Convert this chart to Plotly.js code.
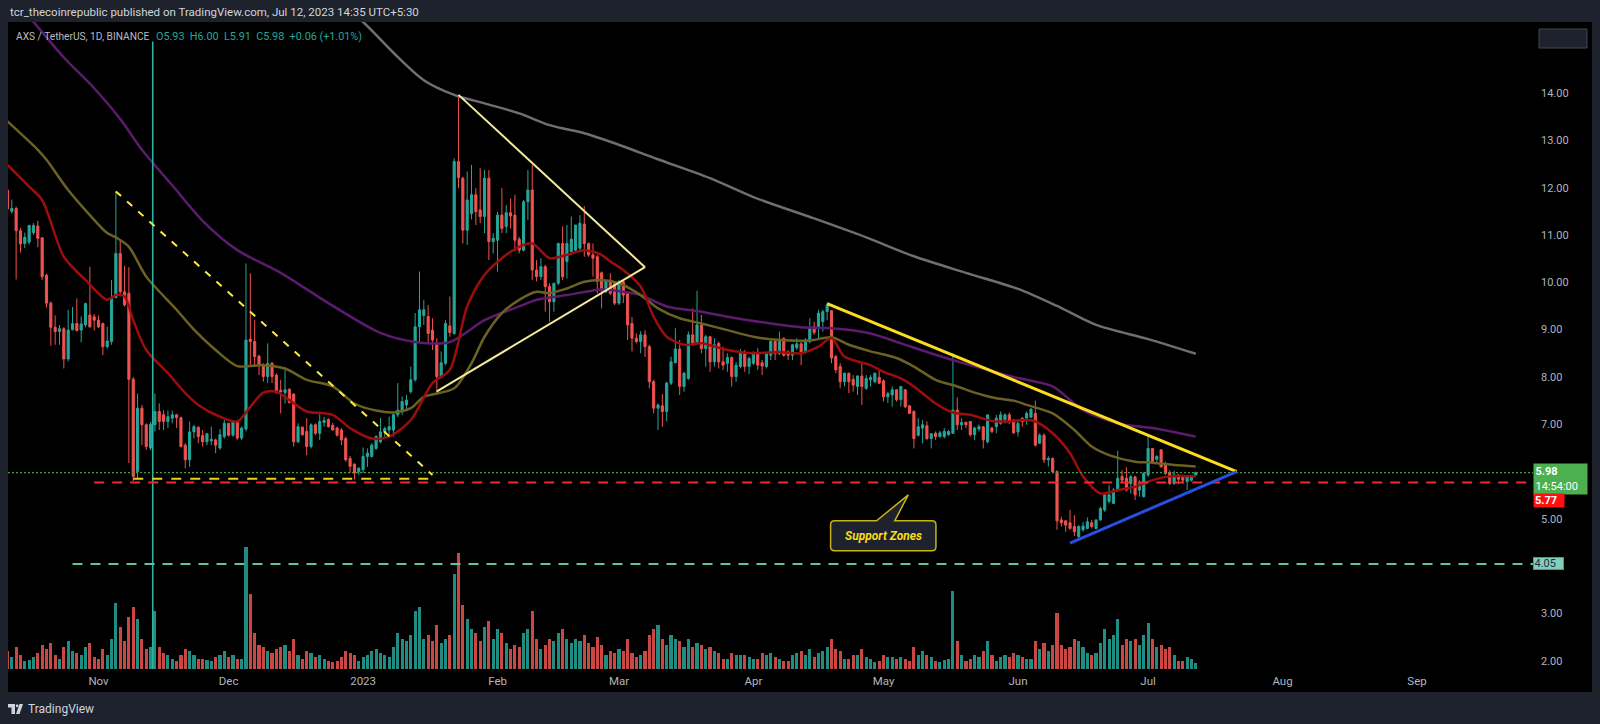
<!DOCTYPE html>
<html>
<head>
<meta charset="utf-8">
<script src="https://cdn.plot.ly/plotly-3.0.1.min.js"></script>
<style>
html,body{margin:0;padding:0;background:#1e222d;}
#chart{width:1600px;height:724px;}
</style>
</head>
<body>
<div id="chart"></div>
<script>
// ---------------- DATA (AXS / TetherUS, 1D, BINANCE) ----------------
const firstDay = [2022, 9, 11]; // 2022-10-11, one candle per calendar day
const open = [
// Oct
11.95,11.5,11.56,11.09,10.82,10.85,11.05,11.19,10.94,10.15,9.56,9.05,8.96,9.02,8.38,9.0,9.13,8.99,9.1,9.31,9.27,
// Nov
9.2,9.13,8.64,8.75,9.68,10.61,9.8,9.77,7.95,6.0,7.34,6.99,6.5,6.99,7.27,7.2,7.06,7.13,7.2,7.14,6.56,6.25,6.84,6.94,6.76,6.63,6.65,6.67,6.5,6.74,
// Dec
7.02,6.77,7.06,6.71,6.9,8.8,8.75,8.44,8.25,8.01,8.29,8.04,7.72,7.67,7.74,7.64,6.63,6.94,6.85,6.53,6.99,6.81,7.04,7.1,6.98,6.92,6.88,6.7,6.28,6.16,6.0,
// Jan
6.04,6.32,6.32,6.49,6.63,6.84,6.88,6.88,7.2,7.3,7.41,7.69,7.94,9.06,9.3,9.28,8.99,8.71,8.01,8.29,9.08,8.92,12.55,12.2,11.1,11.45,11.85,11.53,11.39,12.2,10.86,
// Feb
10.89,11.42,11.18,11.47,11.42,10.91,10.68,11.7,11.95,10.26,10.12,10.33,9.91,9.59,9.98,10.82,10.44,10.65,10.68,10.72,11.23,10.82,10.58,10.54,10.2,9.8,10.01,9.98,
// Mar
9.56,10.01,9.77,9.13,8.82,8.75,8.89,8.64,7.9,7.34,7.39,7.27,7.87,8.3,8.59,7.8,7.97,8.89,8.71,9.1,8.6,8.85,8.32,8.71,8.32,8.29,8.41,8.01,8.22,8.5,8.22,
// Apr
8.29,8.52,8.3,8.22,8.46,8.75,8.5,8.82,8.53,8.46,8.62,8.7,8.53,8.75,9.06,9.03,9.17,9.38,9.4,8.43,8.22,7.9,8.08,7.95,7.8,8.02,7.76,7.94,7.9,7.99,
// May
7.92,7.58,7.62,7.73,7.52,7.73,7.39,7.27,6.77,6.92,6.97,6.7,6.81,6.74,6.74,6.78,6.81,7.3,6.99,7.04,7.06,6.78,6.9,6.95,6.63,6.92,6.95,7.02,7.1,7.2,7.09,
// Jun
6.84,7.13,7.13,7.15,7.23,6.6,6.77,6.25,6.28,6.0,4.98,4.96,4.92,4.84,4.63,4.77,4.8,4.92,4.8,4.98,5.19,5.37,5.33,5.61,5.9,5.86,5.75,5.89,5.61,5.47,
// Jul
5.93,6.49,6.26,6.46,6.14,5.98,5.75,5.93,5.9,5.79,5.82,5.93
];
const high = [
12.0,11.75,11.6,11.15,11.05,11.22,11.25,11.3,10.95,10.18,9.6,9.3,9.1,9.05,9.42,9.48,9.66,9.28,9.57,10.33,9.33,
9.3,9.15,9.06,10.05,11.92,10.88,10.35,10.32,8.0,7.65,7.41,7.02,7.05,7.65,7.44,7.3,7.29,7.29,7.22,7.16,6.6,7.06,6.99,6.95,6.88,6.81,6.95,6.7,6.9,7.09,
7.03,7.09,7.09,6.95,10.4,10.19,9.2,8.47,8.29,8.71,8.32,8.08,7.94,8.18,7.76,7.65,7.02,6.95,7.13,7.02,7.02,7.27,7.16,7.13,7.03,6.95,6.92,6.74,6.33,6.17,6.1,
6.51,6.49,6.6,6.77,7.13,6.95,7.16,7.23,7.87,7.59,7.62,8.22,9.35,10.23,9.63,9.52,9.24,8.82,8.54,9.2,9.7,12.62,13.96,12.23,12.34,12.48,11.99,12.41,12.37,12.37,11.04,
11.49,11.99,11.63,11.77,11.85,10.96,11.74,12.37,12.48,10.47,10.51,10.37,9.98,9.99,10.84,11.18,11.21,11.39,11.21,11.42,11.61,10.84,10.82,10.58,10.23,10.05,10.19,10.0,
10.05,10.05,9.8,9.27,8.92,8.97,8.99,8.68,7.94,7.44,7.64,7.9,8.43,9.03,8.78,8.11,8.96,9.45,9.82,9.31,8.89,8.87,8.82,8.75,8.64,8.5,8.43,8.32,8.59,8.57,8.43,
8.54,8.61,8.36,8.52,8.78,8.78,8.96,8.83,8.57,8.7,8.82,8.75,8.82,9.24,9.17,9.42,9.42,9.57,9.41,8.47,8.29,8.09,8.09,8.04,8.04,8.3,8.04,8.04,8.09,8.13,
7.95,7.69,7.8,7.74,7.81,7.74,7.41,7.3,7.13,7.09,7.06,6.81,6.85,6.86,6.92,6.88,8.5,7.57,7.13,7.06,7.07,6.95,7.0,6.96,7.2,6.95,7.2,7.27,7.23,7.25,7.1,
7.06,7.15,7.27,7.34,7.5,6.81,6.81,6.32,6.3,6.03,5.05,4.98,5.19,5.08,4.87,4.94,5.03,4.98,4.99,5.26,5.54,5.72,5.65,6.44,6.03,6.09,5.93,5.91,5.82,5.99,
6.73,6.5,6.35,6.47,6.21,6.03,6.02,5.95,5.93,5.91,5.93,6.0
];
const low = [
11.5,11.45,10.06,10.63,10.72,10.8,11.0,10.74,10.05,9.47,8.66,8.68,8.68,8.18,8.33,8.98,8.96,8.73,9.05,9.04,8.98,
9.03,8.46,8.6,8.68,9.66,9.7,9.49,6.18,5.8,5.85,6.56,6.46,6.45,6.85,6.88,6.88,6.92,7.02,6.92,6.51,6.07,6.1,6.7,6.6,6.53,6.56,6.56,6.39,6.46,6.7,
6.74,6.74,6.67,6.67,6.85,8.25,8.22,8.04,7.9,7.87,7.87,7.64,7.23,7.44,7.44,6.53,6.6,6.76,6.35,6.49,6.77,6.67,6.95,6.93,6.87,6.74,6.56,6.21,5.97,5.83,5.93,
5.97,6.1,6.3,6.46,6.6,6.7,6.77,6.74,7.15,7.2,7.3,7.65,7.9,8.71,9.1,8.71,8.57,7.73,7.97,8.25,8.85,8.89,11.99,10.82,10.79,11.33,11.21,11.25,11.04,10.47,10.61,
10.23,11.04,11.04,11.14,10.65,10.61,10.65,11.32,10.05,10.02,10.05,9.38,9.17,9.38,9.94,10.05,10.08,10.63,10.65,10.68,10.54,10.54,10.12,9.77,9.45,9.77,9.73,9.52,
9.52,9.56,8.78,8.54,8.71,8.5,8.42,7.76,7.23,6.88,6.95,7.06,7.83,8.29,7.62,7.69,7.94,8.68,8.68,8.5,8.22,8.11,8.22,8.18,8.15,8.11,7.8,7.9,8.18,8.11,8.06,
8.25,8.15,8.04,8.18,8.36,8.36,8.46,8.43,8.36,8.36,8.57,8.25,8.5,8.71,8.89,8.82,8.96,9.2,8.29,8.08,7.76,7.8,7.66,7.69,7.62,7.41,7.73,7.8,7.87,7.85,
7.48,7.45,7.37,7.48,7.37,7.34,7.22,6.49,6.74,6.6,6.67,6.49,6.67,6.72,6.7,6.76,6.8,6.88,6.88,6.92,6.74,6.67,6.85,6.49,6.6,6.81,6.81,6.99,7.02,7.0,6.8,
6.74,6.95,6.99,7.13,6.53,6.58,6.18,6.11,5.96,4.77,4.84,4.73,4.77,4.64,4.59,4.73,4.78,4.8,4.78,4.96,5.15,5.33,5.32,5.58,5.75,5.58,5.54,5.4,5.47,5.46,
5.89,6.19,6.18,6.09,5.93,5.72,5.72,5.74,5.75,5.61,5.79,5.91
];
const close = [
11.55,11.56,11.09,10.81,10.95,11.2,11.2,10.93,10.12,9.56,9.05,8.96,9.02,8.38,8.99,9.13,8.98,9.12,9.55,9.06,9.2,
9.06,8.64,8.76,9.68,10.61,9.8,9.52,7.95,5.9,7.34,6.99,6.53,7.0,7.27,7.06,7.06,7.16,7.2,7.14,6.53,6.25,6.84,6.95,6.74,6.63,6.8,6.68,6.56,6.78,7.02,
6.77,7.06,6.71,6.92,8.78,8.75,8.43,8.25,8.01,8.29,8.01,7.69,7.69,7.73,7.46,6.63,6.95,6.78,6.53,6.99,6.81,7.06,7.08,6.95,6.88,6.77,6.67,6.25,6.11,5.97,6.07,
6.32,6.39,6.56,6.74,6.84,6.91,6.95,7.2,7.3,7.48,7.51,7.94,9.06,9.42,9.42,8.92,8.78,8.01,8.3,9.13,8.94,12.55,12.21,11.1,11.74,11.85,11.49,11.39,12.2,10.86,10.93,
11.42,11.14,11.47,11.4,10.89,10.68,11.7,11.95,10.26,10.12,10.33,9.91,9.59,9.98,10.82,10.12,10.82,10.91,11.21,11.25,10.82,10.58,10.51,10.02,9.84,10.02,9.77,9.56,
10.01,9.73,9.1,8.82,8.75,8.89,8.64,7.9,7.34,7.41,7.27,7.87,8.32,8.59,7.8,8.08,8.89,8.71,9.1,8.6,8.85,8.32,8.68,8.32,8.25,8.41,8.01,8.25,8.5,8.22,8.39,
8.52,8.25,8.23,8.5,8.75,8.5,8.75,8.46,8.46,8.68,8.7,8.53,8.78,9.03,8.94,9.35,9.38,9.52,8.4,8.15,7.9,8.08,7.9,7.83,8.02,7.8,7.97,7.99,8.08,7.87,
7.58,7.65,7.73,7.52,7.8,7.37,7.23,6.7,6.95,6.99,6.7,6.8,6.74,6.82,6.85,6.85,7.3,6.99,7.04,6.99,6.78,6.92,6.95,6.67,7.2,6.85,7.13,7.2,7.2,7.06,6.82,
7.02,7.06,7.23,7.32,6.56,6.77,6.25,6.28,6.0,4.96,4.92,4.87,4.8,4.73,4.84,4.85,4.94,4.84,4.98,5.22,5.51,5.51,5.61,5.86,5.82,5.61,5.89,5.51,5.74,5.96,
6.49,6.21,6.32,6.1,5.96,5.75,5.93,5.84,5.82,5.89,5.9,5.98
];
// volume (relative units)
const volume = [
1.8,1.2,2.2,1.4,0.8,0.9,1.2,1.6,2.4,2.0,2.6,1.4,1.0,2.2,2.8,1.8,1.6,1.4,2.2,2.6,1.2,
1.0,2.0,1.4,3.0,6.6,4.2,2.8,5.2,6.2,5.0,3.0,2.0,2.2,5.8,2.2,1.6,1.4,1.0,0.8,1.4,2.0,1.8,1.4,1.0,1.0,0.9,0.8,1.2,1.4,1.8,
1.2,1.4,1.0,1.0,12.2,7.5,3.6,2.4,2.2,1.8,1.6,2.0,2.2,2.4,1.8,3.0,1.4,1.0,1.8,1.6,1.2,1.4,1.0,0.8,0.7,0.8,1.2,1.8,1.6,1.4,0.8,
1.2,1.4,1.8,2.0,1.6,1.4,1.2,2.2,3.6,3.0,2.8,3.4,5.8,6.2,3.0,3.4,2.8,4.4,2.6,3.0,3.4,9.5,11.6,6.4,5.0,4.0,3.6,2.8,4.2,4.8,3.0,
4.0,3.6,2.6,2.0,2.4,2.2,3.6,4.0,5.8,3.0,2.0,2.4,3.0,2.8,3.6,4.0,3.0,2.6,3.0,2.8,3.4,2.6,2.2,3.2,2.4,1.4,1.8,1.6,
2.0,1.8,3.0,1.6,1.2,1.4,1.8,3.4,4.0,4.4,3.0,2.4,3.4,3.0,2.8,2.2,3.0,2.2,2.6,2.4,2.0,2.2,1.8,1.6,1.0,1.0,1.6,1.4,1.4,1.4,1.2,
1.0,1.0,1.6,1.4,1.6,1.2,1.0,0.8,0.8,1.4,1.6,1.8,1.4,2.0,1.2,1.6,1.8,2.2,3.0,2.0,1.8,1.0,1.0,1.4,1.4,2.0,1.2,1.0,0.7,0.8,
1.4,1.2,1.2,1.0,1.2,1.0,0.8,2.2,1.4,1.8,1.4,1.2,0.8,0.7,0.9,1.0,7.8,2.8,1.4,0.8,1.0,1.4,1.2,1.8,2.8,1.4,0.8,1.2,1.4,1.2,1.6,
1.4,1.2,1.0,1.0,2.8,2.0,2.6,1.8,2.4,5.6,2.4,2.0,2.2,3.0,2.8,2.2,1.6,1.4,1.6,2.6,4.0,3.0,3.4,5.0,2.4,3.0,2.8,3.0,2.4,3.4,
4.6,3.0,2.2,2.4,2.0,2.2,1.4,0.8,0.8,1.2,1.0,0.6
];

// Moving averages (date, value)
const maRedDates = ['2022-10-11','2022-10-16','2022-10-19','2022-10-24','2022-10-29','2022-11-03','2022-11-05','2022-11-07','2022-11-09','2022-11-12','2022-11-17','2022-11-21','2022-11-24','2022-11-29','2022-12-03','2022-12-06','2022-12-09','2022-12-12','2022-12-15','2022-12-19','2022-12-25','2022-12-29','2023-01-03','2023-01-07','2023-01-12','2023-01-17','2023-01-21','2023-01-25','2023-01-29','2023-02-02','2023-02-06','2023-02-09','2023-02-13','2023-02-17','2023-02-21','2023-02-25','2023-02-27','2023-03-02','2023-03-06','2023-03-09','2023-03-12','2023-03-16','2023-03-20','2023-03-26','2023-04-01','2023-04-07','2023-04-12','2023-04-16','2023-04-19','2023-04-22','2023-04-28','2023-05-01','2023-05-05','2023-05-08','2023-05-13','2023-05-17','2023-05-21','2023-05-26','2023-05-30','2023-06-02','2023-06-05','2023-06-09','2023-06-13','2023-06-16','2023-06-20','2023-06-24','2023-06-28','2023-07-02','2023-07-06','2023-07-12'];
const maRedValues = [12.48,12.02,11.74,10.54,10.05,9.63,9.73,9.7,9.2,8.57,8.08,7.66,7.41,7.16,7.06,7.37,7.67,7.69,7.51,7.27,7.2,6.92,6.7,6.74,7.09,7.87,8.15,9.49,10.16,10.51,10.75,10.82,10.51,10.58,10.68,10.58,10.44,10.26,9.91,9.27,8.85,8.68,8.71,8.57,8.5,8.53,8.5,8.64,8.82,8.43,8.25,8.11,7.97,7.8,7.44,7.25,7.2,7.07,7.06,7.09,7.06,6.81,6.39,5.9,5.54,5.61,5.68,5.82,5.9,5.9];

const maOliveDates = ['2022-10-11','2022-10-18','2022-10-20','2022-10-25','2022-10-30','2022-11-03','2022-11-05','2022-11-08','2022-11-12','2022-11-19','2022-11-23','2022-11-28','2022-12-03','2022-12-09','2022-12-14','2022-12-19','2022-12-25','2022-12-30','2023-01-04','2023-01-08','2023-01-12','2023-01-15','2023-01-22','2023-01-26','2023-01-29','2023-02-02','2023-02-06','2023-02-10','2023-02-13','2023-02-17','2023-02-21','2023-02-25','2023-03-01','2023-03-06','2023-03-10','2023-03-15','2023-03-20','2023-03-26','2023-04-01','2023-04-07','2023-04-14','2023-04-19','2023-04-23','2023-04-28','2023-05-04','2023-05-08','2023-05-13','2023-05-18','2023-05-22','2023-05-27','2023-05-31','2023-06-03','2023-06-09','2023-06-14','2023-06-18','2023-06-22','2023-06-28','2023-07-02','2023-07-07','2023-07-12'];
const maOliveValues = [13.4,12.8,12.59,11.95,11.42,11.04,10.95,10.75,10.12,9.42,9.0,8.57,8.23,8.25,8.18,7.94,7.8,7.44,7.29,7.25,7.34,7.58,7.76,8.29,8.85,9.35,9.63,9.8,9.77,9.87,10.01,10.05,9.98,9.73,9.45,9.24,9.13,8.99,8.85,8.78,8.77,8.84,8.68,8.54,8.4,8.22,7.94,7.8,7.67,7.55,7.5,7.41,7.23,6.88,6.53,6.35,6.21,6.19,6.14,6.11];

const maPurpleDates = ['2022-10-14','2022-10-17','2022-10-24','2022-10-31','2022-11-06','2022-11-11','2022-11-18','2022-11-25','2022-12-03','2022-12-13','2022-12-24','2023-01-05','2023-01-13','2023-01-21','2023-01-29','2023-02-06','2023-02-10','2023-02-17','2023-02-25','2023-03-02','2023-03-06','2023-03-12','2023-03-20','2023-03-28','2023-04-05','2023-04-12','2023-04-19','2023-04-28','2023-05-05','2023-05-13','2023-05-21','2023-05-31','2023-06-03','2023-06-09','2023-06-16','2023-06-24','2023-07-02','2023-07-12'];
const maPurpleValues = [15.8,15.5,14.75,14.1,13.45,12.8,12.05,11.3,10.68,10.2,9.56,8.93,8.74,8.74,9.2,9.49,9.63,9.73,9.85,9.8,9.73,9.49,9.38,9.24,9.13,9.05,9.03,8.92,8.71,8.47,8.25,8.0,7.94,7.8,7.3,7.02,6.92,6.74];

const maGrayDates = ['2022-12-25','2023-01-01','2023-01-08','2023-01-15','2023-01-22','2023-01-29','2023-02-06','2023-02-13','2023-02-21','2023-02-27','2023-03-10','2023-03-22','2023-04-01','2023-04-15','2023-04-27','2023-05-08','2023-05-20','2023-06-01','2023-06-10','2023-06-19','2023-07-01','2023-07-12'];
const maGrayValues = [16.0,15.5,14.85,14.27,13.96,13.78,13.57,13.32,13.15,12.97,12.6,12.2,11.8,11.35,10.95,10.55,10.2,9.86,9.5,9.1,8.8,8.49];

// axis labels
const monthTickDates = ['2022-11-01','2022-12-01','2023-01-01','2023-02-01','2023-03-01','2023-04-01','2023-05-01','2023-06-01','2023-07-01','2023-08-01','2023-09-01'];
const monthTickText = ['Nov','Dec','2023','Feb','Mar','Apr','May','Jun','Jul','Aug','Sep'];
const priceTickVals = [2,3,5,7,8,9,10,11,12,13,14];
const priceTickText = ['2.00','3.00','5.00','7.00','8.00','9.00','10.00','11.00','12.00','13.00','14.00'];

// levels and drawings (anchor date, price)
const lastPrice = 5.98, supportLevel = 5.77, deepSupport = 4.05;
const xStart = '2022-10-11 03:00', xEnd = '2023-09-27 18:00';

// ---------------- BUILD ----------------
const dates = open.map((_, i) => {
  const d = new Date(Date.UTC(firstDay[0], firstDay[1], firstDay[2] + i));
  return d.toISOString().slice(0, 10);
});
const UP = '#26a69a', DOWN = '#ef5350';
const volColors = open.map((o, i) => close[i] >= o ? 'rgba(38,166,154,0.85)' : 'rgba(239,83,80,0.85)');
const FONT = 'Roboto, "Liberation Sans", Arial, sans-serif';

const traces = [
  {type:'bar', x:dates, y:volume, yaxis:'y2', marker:{color:volColors, line:{width:0}}, width:0.72*86400000, hoverinfo:'skip'},
  {type:'scatter', mode:'lines', x:maGrayDates, y:maGrayValues, line:{color:'#6f6f6f', width:2.5, shape:'spline', smoothing:0.8}, hoverinfo:'skip'},
  {type:'scatter', mode:'lines', x:maPurpleDates, y:maPurpleValues, line:{color:'#5c1b6e', width:2.5, shape:'spline', smoothing:0.8}, hoverinfo:'skip'},
  {type:'scatter', mode:'lines', x:maOliveDates, y:maOliveValues, line:{color:'#6b6222', width:2.5, shape:'spline', smoothing:0.8}, hoverinfo:'skip'},
  {type:'scatter', mode:'lines', x:maRedDates, y:maRedValues, line:{color:'#9e0d0d', width:2.5, shape:'spline', smoothing:0.8}, hoverinfo:'skip'},
  {type:'candlestick', x:dates, open:open, high:high, low:low, close:close,
   increasing:{line:{color:UP, width:1}, fillcolor:UP},
   decreasing:{line:{color:DOWN, width:1}, fillcolor:DOWN},
   whiskerwidth:0, hoverinfo:'skip'}
];

// pixel helpers for decorations that live outside the plot area
const PX = px => (px - 8) / 1525;
const PY = py => (669 - py) / 647;
const ms = s => Date.parse(s.replace(' ', 'T') + (s.length > 10 ? ':00Z' : 'T00:00:00Z'));

// "Support Zones" callout (anchored in date/price)
const cb = {left:ms('2023-04-18 19:00'), right:ms('2023-05-13 02:00'), top:4.96, bottom:4.33,
            b1:ms('2023-04-29 09:00'), b2:ms('2023-05-03 14:00'), tipX:ms('2023-05-06 17:00'), tipY:5.51};
const rx = 0.92*86400000, ry = 0.085;
const calloutPath = `M ${cb.left+rx},${cb.top} L ${cb.b1},${cb.top} L ${cb.tipX},${cb.tipY} L ${cb.b2},${cb.top} L ${cb.right-rx},${cb.top} Q ${cb.right},${cb.top} ${cb.right},${cb.top-ry} L ${cb.right},${cb.bottom+ry} Q ${cb.right},${cb.bottom} ${cb.right-rx},${cb.bottom} L ${cb.left+rx},${cb.bottom} Q ${cb.left},${cb.bottom} ${cb.left},${cb.bottom+ry} L ${cb.left},${cb.top-ry} Q ${cb.left},${cb.top} ${cb.left+rx},${cb.top} Z`;

const shapes = [
  // black chart pane
  {type:'rect', xref:'paper', yref:'paper', x0:PX(8), x1:PX(1592), y0:PY(692), y1:PY(22), fillcolor:'#000000', line:{width:0}, layer:'below'},
  // top-right button
  {type:'rect', xref:'paper', yref:'paper', x0:PX(1539), x1:PX(1587), y0:PY(48), y1:PY(29), fillcolor:'#1e222d', line:{color:'#434651', width:1}},
  // vertical line
  {type:'line', xref:'x', yref:'y', x0:'2022-11-13 12:00', x1:'2022-11-13 12:00', y0:1.83, y1:15.09, line:{color:'#2bb3a4', width:1.6}},
  // horizontal levels
  {type:'line', xref:'x', yref:'y', x0:xStart, x1:xEnd, y0:lastPrice, y1:lastPrice, line:{color:'#43a047', width:1.3, dash:'2px,2px'}},
  {type:'line', xref:'x', yref:'y', x0:'2022-10-31', x1:xEnd, y0:supportLevel, y1:supportLevel, line:{color:'#f02a2a', width:2, dash:'10px,8px'}},
  {type:'line', xref:'x', yref:'y', x0:'2022-10-26', x1:xEnd, y0:deepSupport, y1:deepSupport, line:{color:'#5fc2ad', width:2, dash:'10px,8px'}},
  {type:'line', xref:'x', yref:'y', x0:'2022-11-09', x1:'2023-01-17', y0:5.85, y1:5.85, line:{color:'#e8d21d', width:2, dash:'10px,9px'}},
  // dashed descending line
  {type:'line', xref:'x', yref:'y', x0:'2022-11-05', x1:'2023-01-17', y0:11.92, y1:5.93, line:{color:'#ffeb3b', width:2, dash:'7px,8px'}},
  // pennant
  {type:'line', xref:'x', yref:'y', x0:'2023-01-23', x1:'2023-03-07', y0:13.96, y1:10.32, line:{color:'#f5e99a', width:2}},
  {type:'line', xref:'x', yref:'y', x0:'2023-01-17 22:00', x1:'2023-03-07', y0:7.69, y1:10.32, line:{color:'#f5e99a', width:2}},
  // descending resistance and rising support
  {type:'line', xref:'x', yref:'y', x0:'2023-04-18', x1:'2023-07-21 10:00', y0:9.55, y1:6.0, line:{color:'#fbdc1e', width:3}},
  {type:'line', xref:'x', yref:'y', x0:'2023-06-13', x1:'2023-07-21 10:00', y0:4.49, y1:6.0, line:{color:'#2850e0', width:3}},
  // callout
  {type:'path', xref:'x', yref:'y', path:calloutPath, fillcolor:'#1e222d', line:{color:'#c9b312', width:1.5}},
  // TradingView logo
  {type:'rect', xref:'paper', yref:'paper', x0:PX(8), x1:PX(15), y0:PY(707.5), y1:PY(704), fillcolor:'#d1d4dc', line:{width:0}},
  {type:'rect', xref:'paper', yref:'paper', x0:PX(11.5), x1:PX(15), y0:PY(714), y1:PY(704), fillcolor:'#d1d4dc', line:{width:0}},
  {type:'circle', xref:'paper', yref:'paper', x0:PX(15.8), x1:PX(18.4), y0:PY(707.2), y1:PY(704.2), fillcolor:'#d1d4dc', line:{width:0}},
  {type:'path', xref:'paper', yref:'paper', path:`M ${PX(19.5)},${PY(704)} L ${PX(23)},${PY(704)} L ${PX(19.5)},${PY(714)} L ${PX(16)},${PY(714)} Z`, fillcolor:'#d1d4dc', line:{width:0}}
];

const annotations = [
  {xref:'paper', yref:'paper', x:PX(8), y:PY(11.5), xanchor:'left', yanchor:'middle', showarrow:false,
   text:'tcr_thecoinrepublic published on TradingView.com, Jul 12, 2023 14:35 UTC+5:30', font:{family:FONT, size:11.5, color:'#d1d4dc'}},
  {xref:'paper', yref:'paper', x:PX(14), y:PY(36.5), xanchor:'left', yanchor:'middle', showarrow:false,
   text:'AXS / TetherUS, 1D, BINANCE', font:{family:FONT, size:10.2, color:'#b8bbc4'}},
  {xref:'paper', yref:'paper', x:PX(154), y:PY(36.5), xanchor:'left', yanchor:'middle', showarrow:false,
   text:'O5.93&nbsp;&nbsp;H6.00&nbsp;&nbsp;L5.91&nbsp;&nbsp;C5.98&nbsp;&nbsp;+0.06 (+1.01%)', font:{family:FONT, size:10.8, color:'#26a69a'}},
  {xref:'x', yref:'y', x:'2023-05-01', y:4.645, xanchor:'center', yanchor:'middle', showarrow:false,
   text:'<b><i>Support Zones</i></b>', font:{family:FONT, size:12, color:'#f7dc1c'}},
  // price tags
  {xref:'paper', yref:'paper', x:PX(1533), y:PY(479), xanchor:'left', yanchor:'middle', showarrow:false, align:'left',
   text:'<b>5.98</b><br>14:54:00', bgcolor:'#4caf50', width:50, height:27, borderpad:1.5, font:{family:FONT, size:11, color:'#ffffff'}},
  {xref:'paper', yref:'paper', x:PX(1533), y:PY(500.5), xanchor:'left', yanchor:'middle', showarrow:false, align:'left',
   text:'<b>5.77</b>', bgcolor:'#ff1010', width:28, height:11, borderpad:1, font:{family:FONT, size:11, color:'#ffffff'}},
  {xref:'paper', yref:'paper', x:PX(1533), y:PY(563.5), xanchor:'left', yanchor:'middle', showarrow:false, align:'left',
   text:'4.05', bgcolor:'#7fcfbd', bordercolor:'#26a69a', borderwidth:1, width:28, height:10, borderpad:0.5, font:{family:FONT, size:11, color:'#2a2e39'}},
  // footer
  {xref:'paper', yref:'paper', x:PX(26), y:PY(709), xanchor:'left', yanchor:'middle', showarrow:false,
   text:'TradingView', font:{family:FONT, size:12, color:'#d1d4dc'}}
];

const layout = {
  width:1600, height:724,
  margin:{l:8, r:67, t:22, b:55, pad:0},
  paper_bgcolor:'#1e222d', plot_bgcolor:'#000000',
  showlegend:false, hovermode:false, bargap:0,
  xaxis:{type:'date', range:[xStart, xEnd], tickvals:monthTickDates, ticktext:monthTickText,
         showgrid:false, zeroline:false, showline:false, ticks:'', ticklabelstandoff:3,
         tickfont:{family:FONT, size:11.5, color:'#b2b5be'}, rangeslider:{visible:false}, fixedrange:true},
  yaxis:{side:'right', range:[1.83, 15.5], tickvals:priceTickVals, ticktext:priceTickText,
         showgrid:false, zeroline:false, showline:false, ticks:'', ticklabelstandoff:7,
         tickfont:{family:FONT, size:11, color:'#b2b5be'}, fixedrange:true},
  yaxis2:{overlaying:'y', range:[0, 64.7], visible:false, fixedrange:true},
  shapes:shapes, annotations:annotations
};

Plotly.newPlot('chart', traces, layout, {staticPlot:true, displayModeBar:false});
</script>
</body>
</html>
